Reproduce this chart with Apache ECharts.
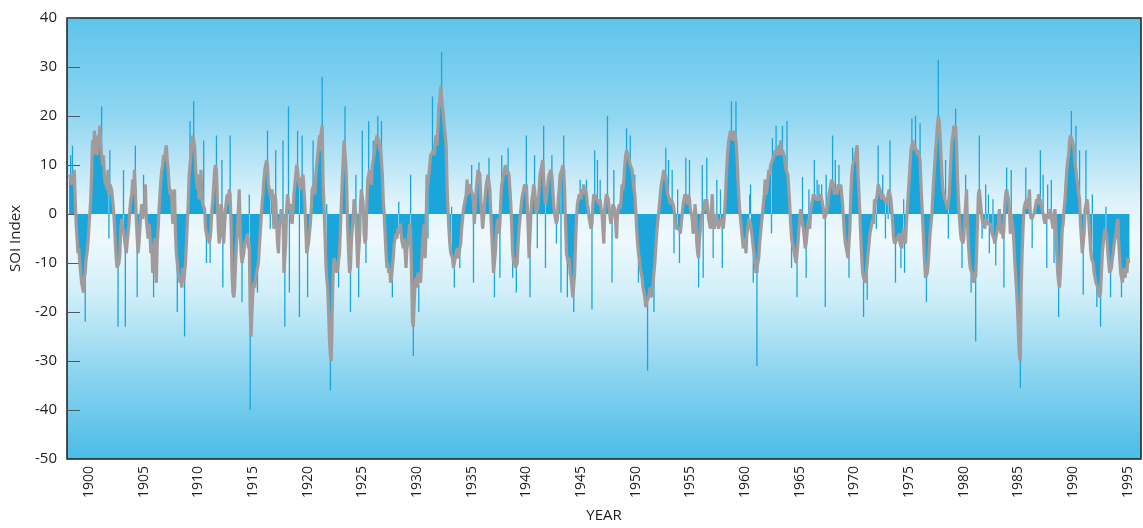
<!DOCTYPE html>
<html>
<head>
<meta charset="utf-8">
<script src="https://cdn.jsdelivr.net/npm/echarts@6/dist/echarts.min.js"></script>
<style>
  html, body { margin: 0; padding: 0; background: #ffffff; }
  #chart { width: 1143px; height: 528px; }
</style>
</head>
<body>
<div id="chart"></div>
<script>
// Monthly Southern Oscillation Index. Each entry is either a single value
// (monthly bar and running-mean curve agree) or a pair [monthly, running mean].
const firstMonth = 1898.25;   // decimal year of the first monthly value

const soi_1898_1906 = [8,[12,8],6,[14,8],7,9,3,-2,-5,-8,-7,-10,-12,-14,-15,-16,-13,[-22,-12],-9,-8,
  -6,-3,0,3,8,15,12,17,15,14,12,16,14,18,14,[22,14],10,12,8,6,7,5,9,[-5,4],[13,6],6,5,3,1,-2,
  -6,-9,-11,[-23,-11],-10,-8,-3,-1,-4,[9,-3],-5,[-23,-5],-8,-6,-4,-2,1,3,4,7,4,9,[14,5],-1,[-17,-5],
  -8,-6,-3,0,2,-1,[8,1],2,6,-1,-3,-5,-2,-4,-8,-6,-12,[-17,-12],-5];

const soi_1906_1914 = [-9,-14,-6,-3,1,4,7,9,10,12,11,13,14,11,9,6,4,5,3,-2,2,5,-4,-8,[-20,-10],
  -12,-13,-14,-13,-15,-11,-14,[-25,-12],-10,-6,-2,2,8,[19,10],10,14,16,[23,15],14,10,7,5,8,3,6,
  9,3,2,[15,2],1,-3,[-10,-4],-5,-4,-6,[-10,-5],-3,1,3,6,9,10,[16,9],3,-3,-6,-4,2,[11,1],[-15,-4],
  -6,-2,1,3,4,2,5,[16,4],-2,-12,-16,-17,-15,-10,-6,-4,1,5,-3,-8,[-18,-10],-10,-8,-6];

const soi_1914_1922 = [-6,-5,-4,-7,[4,-6],[-40,-20],-25,-20,-16,-14,-15,-13,-12,[-16,-12],-10,-7,
  -4,-1,2,4,7,9,10,11,[17,10],6,5,[-3,4],3,5,2,-3,4,[13,3],-2,-6,-8,-3,-1,1,-2,[15,0],-12,[-23,-9],
  -6,1,4,[22,4],[-16,1],2,-1,-2,1,4,6,8,10,[17,9],7,[-21,6],5,7,[16,7],8,5,2,-3,-8,[-17,-8],-6,
  -4,-2,1,5,[15,5],6,4,8,10,12,14,16,13,17,[28,18],6,2,-4,-10,[2,-13],-15,-20,-26,[-36,-29],-30,
  -20,-12,-9,-10];

const soi_1922_1930 = [-10,-12,-11,[-15,-11],-8,-3,2,7,11,15,[22,15],10,5,-3,-8,-12,[-20,-11],-6,
  -3,-1,3,1,[8,0],-6,-11,[-17,-11],-5,2,5,[17,5],2,-4,-6,[-10,-5],2,7,[19,8],9,7,6,10,[15,11],12,
  14,15,16,[20,16],15,13,14,[19,11],8,3,0,-4,-8,-11,-10,-12,-11,-14,-13,[-17,-13],-9,-6,-5,-4,-5,
  -3,[2.5,-4],-4,-2,-5,-6,-7,-5,-8,-11,-7,-6,-4,-2,[8,-4],-12,-22,[-29,-23],-18,-14,-13,-15,-12,
  [-20,-14],-13,-14,-10,-6,-4,-2];

const soi_1930_1939 = [-9,-3,8,[-5,6],6,10,12,12,[24,12],13,12,15,16,14,18,22,23,26,[33,26],22,20,
  18,16,14,6,1,-3,-6,-8,[1.5,-8],-9,-11,[-15,-10],-9,-8,-7,-9,-8,[-11,-7],-6,-3,-1,1,2,3,4,7,4,5,
  6,5,[10,5],4,[-14,2],-2,2,5,7,9,[10.5,9],8,3,0,-3,-1,2,4,6,7,8,[11.5,8],5,0,-4,-8,-12,[-17,-12],
  -8,-4,-2,-1,-4,[-13,-2],3,[12,6],7,8,9,10,8,9,[13.5,9],8,5,2,-3,[-13,-8],-10,-9];

const soi_1939_1947 = [-11,[-16,-11],-10,-6,-3,-1,1,3,4,5,6,5,[16,6],2,-3,-9,[-17,-9],0,3,4,6,
  [12,5],3,0,[-7,0],2,5,8,9,10,11,[18,11],4,[-11,2],2,5,7,8,8,9,[12,8],5,2,0,-1,[-6,-2],-1,3,5,8,
  [-16,8],9,10,[16,9],5,-2,-8,[-17,-9],-10,-9,-12,-13,-15,-17,[-20,-17],-12,-6,-1,2,3,4,[7,4],3,5,
  4,6,4,5,[7,4],2,1,-1,-2,-3,[-19.5,-2],2,4,[13,4],4,3,[11,3],3,2,[7,3],1,0,-3,-6,1];

const soi_1947_1955 = [3,4,[20,4],3,1,-1,-2,[-14,-2],2,[9,2],1,-2,-5,0,1,2,1,3,6,5,7,10,12,
  [17.5,13],13,12,11,[16,10],10,9,7,5,[8,4],1,-3,-6,[-14,-8],-9,-11,-12,-13,-15,-16,-17,-19,-18,
  [-32,-18],-17,-16,-15,-17,-16,-14,[-20,-12],-10,-7,-4,-2,0,2,4,6,7,8,9,7,[13.5,8],6,4,[11,4],3,
  2,3,[9,3],2,[-8,1],-1,-2,-3,[5,-3],-3,[-10,-3],-4,-2,0,2,3,4,[11.5,4],3,2,4,[11,3],1,0,-1,-4,-2];

const soi_1955_1963 = [2,0,-6,-8,[-15,-9],-5,-3,-1,[10,0],[-13,0],1,3,2,[11.5,3],1,-1,-2,-3,1,4,
  [-9,-2],-3,-2,0,[7,-1],-1,-3,-2,[5,-2],-1,[-11,-2],-3,-1,2,6,10,13,15,16,17,[23,16],16,15,17,16,
  [23,15],12,8,4,1,-1,-3,-5,-7,-6,-5,-8,-4,-3,-1,[4,-1],[6,-2],-2,-5,[-14,-7],-8,-10,-12,[-31,-12],
  -12,-9,-6,-4,-2,0,2,4,7,4,5,7,9,8,10,[-4,10],[15.5,11],11,12,13,[18,13],13,12,14,13,15,12,
  [18,13],13];

const soi_1963_1971 = [12,10,9,[19,9],8,5,2,-2,[-11,-5],-6,-7,-8,-9,-10,[-17,-10],-6,-3,-1,1,-1,
  [7.5,-1],-3,-5,-7,[-13,-6],-4,-2,[5,-1],-3,1,2,3,4,[11,4],4,3,[7,3],3,[6,3],3,4,[6,3],3,1,-1,
  [-19,-1],[8,0],1,2,4,5,6,7,[16,7],6,4,[11,5],5,4,6,[10,6],5,6,4,2,-1,-4,-6,-7,-8,-9,[-13,-9],-3,
  4,8,[13.5,10],10,11,12,13,14,8,4,0,-5,-9,-12,[-21,-13],-13,-14,-12,[-17.5,-12],-8,-6,-4,-3,-2,
  -1,-2];

const soi_1971_1980 = [3,2,[-3,3],4,[14,6],6,5,4,3,[8,4],4,3,[-5,3],2,3,[-1,4],5,[15,5],3,1,-2,
  -5,-6,[-14,-6],-6,-5,-5,-4,-6,[-11,-6],-7,-4,[3,-3],[-12,-3],-6,-2,1,4,7,10,13,[19.5,14],15,13,
  14,[20,14],13,12,13,12,[18.5,11],6,2,-2,-6,-10,-13,[-18,-13],-12,-10,-7,-4,-2,0,4,7,10,13,15,18,
  [31.5,20],19,16,12,8,5,4,3,[11,3],2,1,[-5,2],4,8,12,15,16,18,17,[21.5,18],14,8,3,0,-3,-5,
  [-11,-5],-6,-5];

const soi_1980_1988 = [-1,[8,-1],5,-2,-6,-9,-11,[-16,-11],-12,-13,-14,-12,[-26,-13],-8,-2,4,
  [16,5],5,1,[-5,-1],-2,-1,-3,[6,-1],-1,-2,[4,-2],[-8,-2],-2,-3,-4,[3,-4],-5,-6,[-10.5,-5],-4,-3,
  -2,1,-3,-4,-2,-5,[-15,-3],2,4,[9.5,5],5,3,1,-4,[9,0],0,-3,-6,-10,-13,-16,-20,-25,-29,
  [-35.5,-30],-15,-8,-3,1,2,[9.5,2],3,1,2,5,0,-1,[-7,-1],-1,0,1,2,3,2,4,3,[13,3],3,1,[8,1],-1,-2,
  0,[-11,-1],[6,0],-1,0,1,[7,1],-2,-3,[-10,-3]];

const soi_1988_1995 = [1,-3,-8,-12,[-21,-14],-15,-12,-8,-3,-2,1,3,6,9,11,12,15,16,[21,16],15,14,
  13,10,[18,9],7,6,4,[13,3],-2,-5,-8,[-16.5,-8],-4,1,[13,2],3,2,-1,-4,-7,-9,[4,-9],-10,-12,-13,
  -14,[-19,-14],-15,-16,-17,[-23,-16],-12,-8,-6,-4,-3,[1.5,-4],-5,-8,-10,-12,[-17,-12],-11,-9,-8,
  -6,-5,-4,-2,-1,-6,-9,-12,[-17,-13],-14,-12,-11,-13,-11,-12,-9,-10];

const yearLabels = [1900,1905,1910,1915,1920,1925,1930,1935,1940,1945,
                    1950,1955,1960,1965,1970,1975,1980,1985,1990,1995];

const monthly = [].concat(soi_1898_1906, soi_1906_1914, soi_1914_1922, soi_1922_1930,
  soi_1930_1939, soi_1939_1947, soi_1947_1955, soi_1955_1963, soi_1963_1971,
  soi_1971_1980, soi_1980_1988, soi_1988_1995);

const barData = monthly.map((v, i) => [firstMonth + i / 12, Array.isArray(v) ? v[0] : v]);
const meanData = monthly.map((v, i) => [firstMonth + i / 12, Array.isArray(v) ? v[1] : v]);

const chart = echarts.init(document.getElementById('chart'), null, { renderer: 'canvas' });
const font = '"Open Sans", "Liberation Sans", sans-serif';

chart.setOption({
  animation: false,
  backgroundColor: '#ffffff',
  grid: {
    left: 66, top: 18, right: 2, bottom: 58,
    show: true,
    borderColor: '#1b1b1b',
    borderWidth: 1.5,
    backgroundColor: {
      type: 'linear', x: 0, y: 0, x2: 0, y2: 1,
      colorStops: [
        { offset: 0.00, color: '#5ec4ea' },
        { offset: 0.22, color: '#8fd6f1' },
        { offset: 0.42, color: '#dff3fb' },
        { offset: 0.50, color: '#eef9fd' },
        { offset: 0.62, color: '#d2eff9' },
        { offset: 0.80, color: '#8ed5f0' },
        { offset: 1.00, color: '#4bbce8' }
      ]
    }
  },
  xAxis: {
    type: 'value',
    min: 1898,
    max: 1996.2,
    name: 'YEAR',
    nameLocation: 'middle',
    nameGap: 49,
    nameTextStyle: { fontFamily: font, fontSize: 15, color: '#1e1e1e' },
    axisLine: { show: false },
    axisTick: { show: false },
    splitLine: { show: false },
    axisLabel: {
      customValues: yearLabels,
      rotate: 90,
      margin: 7,
      fontFamily: font,
      fontSize: 14,
      color: '#1e1e1e',
      formatter: v => String(v)
    }
  },
  yAxis: {
    type: 'value',
    min: -50,
    max: 40,
    interval: 10,
    name: 'SOI Index',
    nameLocation: 'middle',
    nameGap: 44,
    nameRotate: 90,
    nameTextStyle: { fontFamily: font, fontSize: 15, color: '#1e1e1e' },
    axisLine: { show: false },
    axisTick: { show: true, inside: true, length: 13, lineStyle: { color: '#4a5a66', width: 1 } },
    splitLine: { show: false },
    axisLabel: { fontFamily: font, fontSize: 15, color: '#1e1e1e', margin: 10 }
  },
  series: [
    {
      type: 'bar',
      data: barData,
      barWidth: 1.3,
      itemStyle: { color: '#1ba6db' },
      large: true,
      largeThreshold: 200,
      z: 2
    },
    {
      type: 'line',
      data: meanData,
      showSymbol: false,
      smooth: false,
      lineStyle: { color: '#a19c9b', width: 3.2 },
      z: 3
    }
  ]
});
</script>
</body>
</html>
